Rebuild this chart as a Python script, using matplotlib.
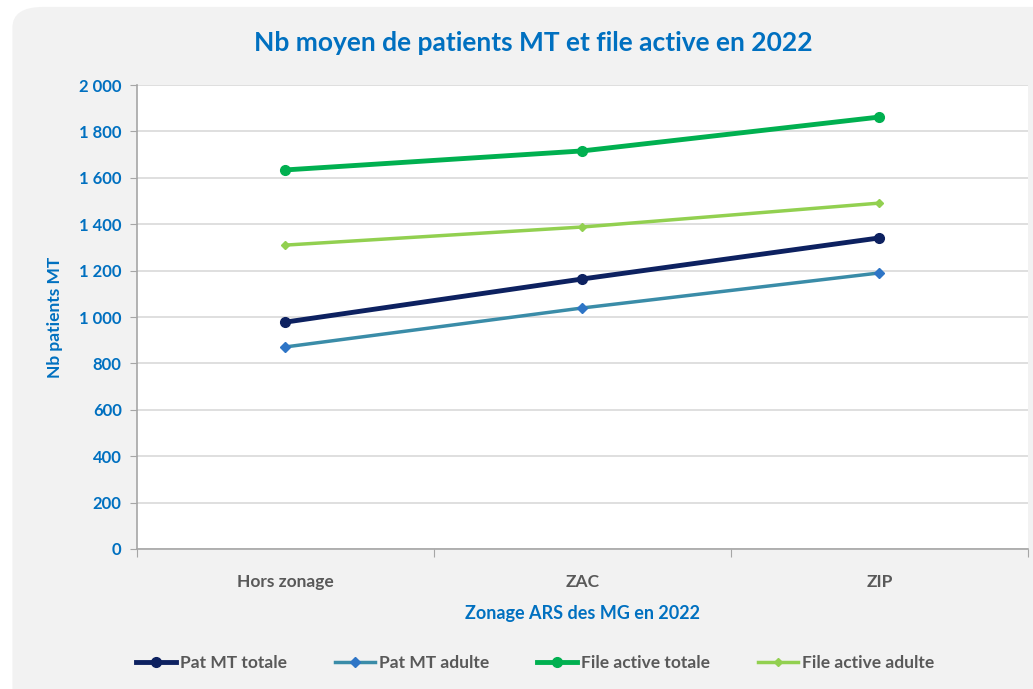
import matplotlib.pyplot as plt
from matplotlib.patches import FancyBboxPatch

plt.rcParams['font.family'] = ['Lato', 'DejaVu Sans']

zones = ['Hors zonage', 'ZAC', 'ZIP']
pat_mt_totale = [978, 1164, 1341]
pat_mt_adulte = [871, 1039, 1190]
file_active_totale = [1634, 1716, 1862]
file_active_adulte = [1310, 1388, 1491]
y_ticks = [0, 200, 400, 600, 800, 1000, 1200, 1400, 1600, 1800, 2000]
y_labels = ['0', '200', '400', '600', '800', '1 000', '1 200', '1 400', '1 600', '1 800', '2 000']

blue = '#0070c0'
gray = '#595959'

fig = plt.figure(figsize=(10.33, 6.89), dpi=100)
fig.patch.set_facecolor('white')
bg = FancyBboxPatch((0.012, -0.05), 1.05, 1.04, boxstyle='round,pad=0,rounding_size=0.03',
                    transform=fig.transFigure, facecolor='#f2f2f2', edgecolor='none', zorder=-5)
fig.patches.append(bg)

ax = fig.add_axes([0.1326, 0.2032, 0.8625, 0.6734])
ax.set_facecolor('white')

x = [0.5, 1.5, 2.5]
ax.plot(x, pat_mt_totale, color='#0d2160', lw=3.5, marker='o', ms=7, label='Pat MT totale', zorder=4)
ax.plot(x, pat_mt_adulte, color='#3a8ca8', lw=2.5, marker='D', ms=5.5, mfc='#2e75c6', mec='#2e75c6',
        label='Pat MT adulte', zorder=3)
ax.plot(x, file_active_totale, color='#00b050', lw=3.5, marker='o', ms=7, label='File active totale', zorder=4)
ax.plot(x, file_active_adulte, color='#92d050', lw=2.5, marker='D', ms=4.5, label='File active adulte', zorder=3)

ax.set_xlim(0, 3)
ax.set_ylim(0, 2000)
ax.set_yticks(y_ticks)
ax.set_yticklabels(y_labels, color=blue, fontweight='bold', fontsize=12)
ax.set_xticks([0, 1, 2, 3])
ax.set_xticklabels([])
ax.set_xticks(x, minor=True)
ax.set_xticklabels(zones, minor=True, color=gray, fontweight='bold', fontsize=12.5)
ax.tick_params(axis='x', which='minor', length=0, pad=18)
ax.tick_params(axis='x', which='major', length=6, color='#a6a6a6', direction='out')
ax.tick_params(axis='y', length=5, color='#a6a6a6', pad=6)
ax.grid(axis='y', color='#d9d9d9', lw=1.2)
ax.set_axisbelow(True)
for s in ['top', 'right']:
    ax.spines[s].set_visible(False)
for s in ['left', 'bottom']:
    ax.spines[s].set_color('#a6a6a6')
    ax.spines[s].set_linewidth(1.2)

ax.set_xlabel('Zonage ARS des MG en 2022', color=blue, fontweight='bold', fontsize=13, labelpad=11)
ax.set_ylabel('Nb patients MT', color=blue, fontweight='bold', fontsize=12.5, labelpad=12)
fig.text(0.516, 0.937, 'Nb moyen de patients MT et file active en 2022', ha='center', va='center',
         color=blue, fontweight='bold', fontsize=19)

leg = fig.legend(loc='center', bbox_to_anchor=(0.518, 0.038), ncol=4, frameon=False, fontsize=12.5,
                 handlelength=2.3, columnspacing=2.8, handletextpad=0.2)
for t in leg.get_texts():
    t.set_color(gray)
    t.set_fontweight('bold')

fig.savefig('out.png', dpi=100)
